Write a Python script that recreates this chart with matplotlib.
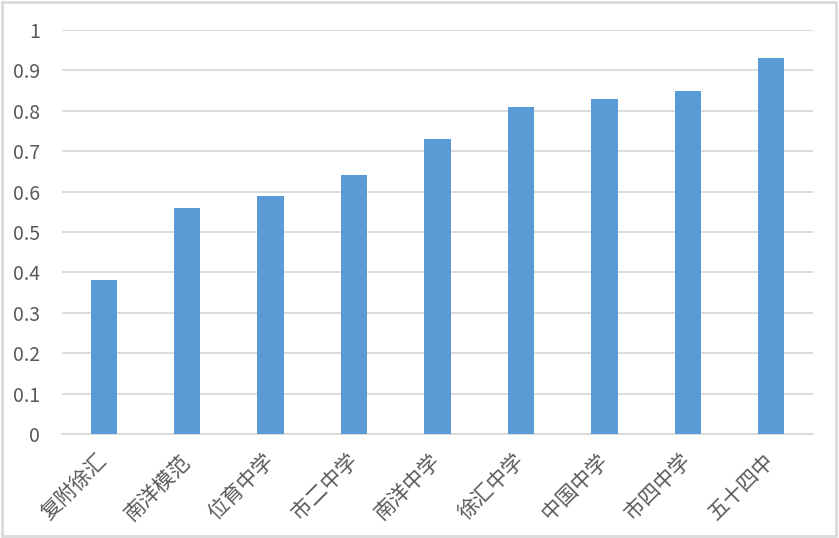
import matplotlib
matplotlib.use("Agg")
import matplotlib.pyplot as plt
from matplotlib.patches import Rectangle

plt.rcParams['font.family'] = ['Noto Sans CJK SC', 'DejaVu Sans']

categories = ['复附徐汇', '南洋模范', '位育中学', '市二中学', '南洋中学', '徐汇中学', '中国中学', '市四中学', '五十四中']
values = [0.38, 0.56, 0.59, 0.64, 0.73, 0.81, 0.83, 0.85, 0.93]
yticks = [0, 0.1, 0.2, 0.3, 0.4, 0.5, 0.6, 0.7, 0.8, 0.9, 1]
yticklabels = ['0', '0.1', '0.2', '0.3', '0.4', '0.5', '0.6', '0.7', '0.8', '0.9', '1']

bar_color = '#5B9BD5'
text_color = '#595959'
grid_color = '#D9D9D9'

fig = plt.figure(figsize=(8.39, 5.38), dpi=100)
ax = fig.add_axes([0.0739, 0.1933, 0.8951, 0.7509])

x = range(len(categories))
ax.bar(x, values, width=0.315, color=bar_color, zorder=3)
ax.set_xlim(-0.5, len(categories) - 0.5)
ax.set_ylim(0, 1)
ax.set_yticks(yticks)
ax.set_yticklabels(yticklabels, fontsize=14, color=text_color)
ax.set_xticks(list(x))
ax.set_xticklabels(categories, fontsize=15, color=text_color, rotation=45,
                   ha='right', va='center', rotation_mode='anchor')
ax.tick_params(axis='both', length=0)
ax.tick_params(axis='y', pad=16)
ax.tick_params(axis='x', pad=17)
ax.grid(axis='y', color=grid_color, linewidth=1.3, zorder=0)
for s in ['top', 'right', 'left']:
    ax.spines[s].set_visible(False)
ax.spines['bottom'].set_color(grid_color)
ax.spines['bottom'].set_linewidth(1.3)

fig.patches.append(Rectangle((0.002, 0.004), 0.995, 0.993, transform=fig.transFigure,
                             fill=False, edgecolor=grid_color, linewidth=2))

fig.savefig('out.png', dpi=100)
